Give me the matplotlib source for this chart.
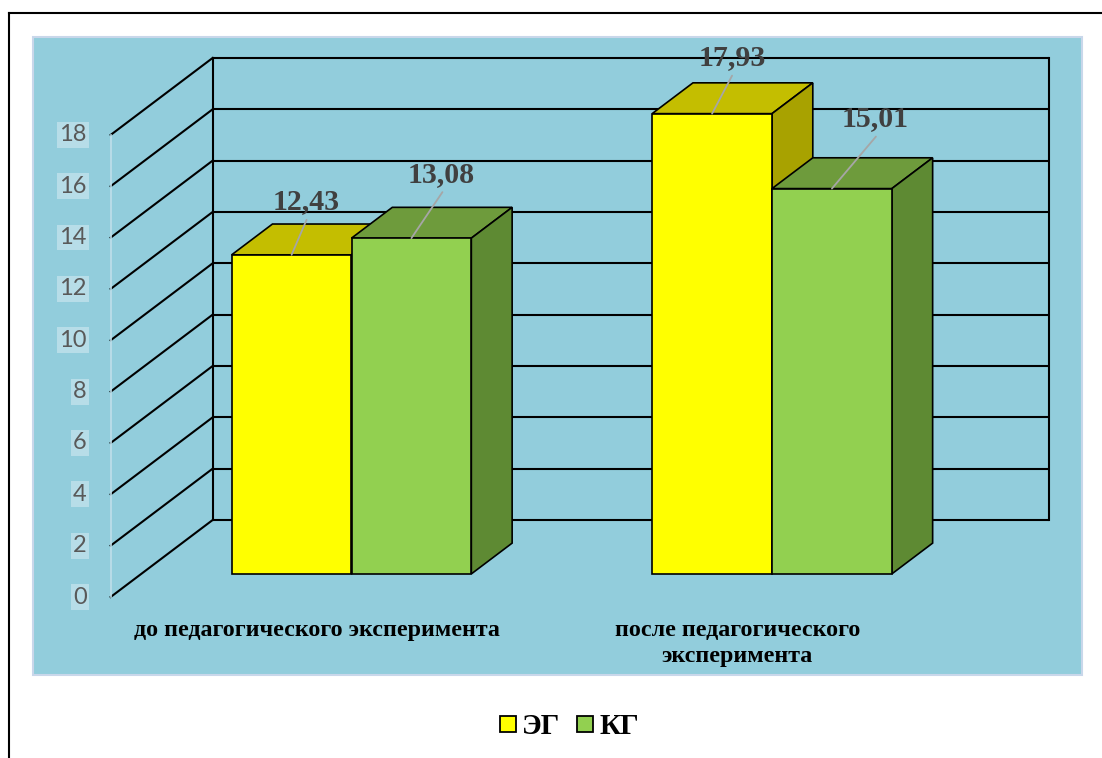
import numpy as np
import matplotlib
matplotlib.use("Agg")
import matplotlib.pyplot as plt
from matplotlib.patches import Rectangle, Polygon
from matplotlib.lines import Line2D

# ---------------- data ----------------
categories = ["до педагогического эксперимента", "после педагогического\nэксперимента"]
series_names = ["ЭГ", "КГ"]
eg_values = [12.43, 17.93]
kg_values = [13.08, 15.01]
value_labels_eg = ["12,43", "17,93"]
value_labels_kg = ["13,08", "15,01"]
y_ticks = list(range(0, 19, 2))

# ---------------- style ----------------
W_PX, H_PX = 1102, 758
fig = plt.figure(figsize=(W_PX / 100, H_PX / 100), dpi=100)
fig.patch.set_facecolor("white")
ax = fig.add_axes([0, 0, 1, 1])
ax.set_axis_off()
ax.set_facecolor("none")

# pixel -> data layout (front plane: y value, x category index)
PX_PER_UNIT = 25.67
PX_ZERO = 597.0
PX_PER_CAT = 420.5
PX_CAT0 = 320.9
ax.set_xlim((0 - PX_CAT0) / PX_PER_CAT, (W_PX - PX_CAT0) / PX_PER_CAT)
ax.set_ylim((PX_ZERO - H_PX) / PX_PER_UNIT, PX_ZERO / PX_PER_UNIT)

DX = 102.0 / PX_PER_CAT      # full depth shift in x (category units)
DY = 77.0 / PX_PER_UNIT      # full depth shift in y (value units)
D0, D1 = 0.3, 0.7            # bar depth range
BW = 0.285                   # bar width
WALL_L, WALL_R = -0.5, 1.49

panel_c = "#92CDDC"
grid_c = "black"
tick_box_c = "#B7DDE8"

eg_front, eg_top, eg_side = "#FFFF00", "#C4BE00", "#A8A200"
kg_front, kg_top, kg_side = "#92D050", "#6E9B3C", "#5E8A33"

serif = "Liberation Serif"

# outer frame and blue panel (figure pixel coords)
to_fig = lambda x, y: (x / W_PX, 1 - y / H_PX)
ax.add_line(Line2D([9 / W_PX, 1.0], [1 - 13 / H_PX] * 2, transform=fig.transFigure,
                   color="black", lw=1.5, clip_on=False, zorder=0))
ax.add_line(Line2D([9 / W_PX] * 2, [1 - 13 / H_PX, 0.0], transform=fig.transFigure,
                   color="black", lw=1.5, clip_on=False, zorder=0))
x0, y1 = to_fig(33, 675)
x1, y0 = to_fig(1082, 37)
ax.add_patch(Rectangle((x0, y1), x1 - x0, y0 - y1, transform=fig.transFigure,
                       facecolor=panel_c, edgecolor="#C9D7EA", lw=1.5, zorder=0.5))

def proj(x, v, d):
    return x + d * DX, v + d * DY

# back wall, side wall gridlines
for t in y_ticks:
    xa, ya = proj(WALL_L, t, 1)
    xb, yb = proj(WALL_R, t, 1)
    ax.plot([xa, xb], [ya, yb], color=grid_c, lw=1.5, zorder=1, solid_capstyle="butt")
    xf, yf = proj(WALL_L, t, 0)
    ax.plot([xf, xa], [yf, ya], color=grid_c, lw=1.5, zorder=1)
for xw in (WALL_L, WALL_R):
    xa, ya = proj(xw, y_ticks[0], 1)
    xb, yb = proj(xw, y_ticks[-1], 1)
    ax.plot([xa, xb], [ya, yb], color=grid_c, lw=1.5, zorder=1)
# light front axis line
xa, ya = proj(WALL_L, y_ticks[0], 0)
xb, yb = proj(WALL_L, y_ticks[-1], 0)
ax.plot([xa, xb], [ya, yb], color="#BFDFEA", lw=1.2, zorder=1)

# tick labels
for t in y_ticks:
    xf, yf = proj(WALL_L, t, 0)
    ax.annotate(str(t), xy=(xf, yf), xytext=(-24, 0), textcoords="offset pixels",
                ha="right", va="center", fontsize=17, family="Lato", color="#595959",
                bbox=dict(boxstyle="square,pad=0.1", fc=tick_box_c, ec="none"), zorder=2)

# bars
groups = np.arange(len(categories))
series = [
    (eg_values, -0.5, eg_front, eg_top, eg_side),
    (kg_values, 0.5, kg_front, kg_top, kg_side),
]
z = 3
for vals, shift, cf, ct, cs in series:
    xs = groups + shift * BW
    fx, base = proj(xs, 0, D0)
    ax.bar(fx, vals, width=BW, bottom=base, color=cf, edgecolor="black", lw=1.2, zorder=z + 2)
    dd = D1 - D0
    for xc, v in zip(fx, vals):
        xl, xr = xc - BW / 2, xc + BW / 2
        top = base + v
        top_poly = [(xl, top), (xr, top), (xr + dd * DX, top + dd * DY), (xl + dd * DX, top + dd * DY)]
        side_poly = [(xr, base), (xr, top), (xr + dd * DX, top + dd * DY), (xr + dd * DX, base + dd * DY)]
        ax.add_patch(Polygon(top_poly, closed=True, fc=ct, ec="black", lw=1.2, zorder=z))
        ax.add_patch(Polygon(side_poly, closed=True, fc=cs, ec="black", lw=1.2, zorder=z))
    z += 3

# value labels with leader lines (offsets in pixels: leader end, text baseline)
label_specs = [
    (eg_values, value_labels_eg, -0.5, [(15, 35, 15, 46), (20, 38, 20, 49)]),
    (kg_values, value_labels_kg, 0.5, [(31, 46, 30, 56), (44, 52, 43, 63)]),
]
for vals, labs, shift, offs in label_specs:
    fx, base = proj(groups + shift * BW, 0, D0)
    for xc, v, lab, (lx, ly, tx, ty) in zip(fx, vals, labs, offs):
        ax.annotate("", xy=(xc, base + v), xytext=(lx, ly), textcoords="offset pixels",
                    arrowprops=dict(arrowstyle="-", color="#A6A6A6", lw=1.3,
                                    shrinkA=0, shrinkB=0), zorder=12)
        ax.annotate(lab, xy=(xc, base + v), xytext=(tx, ty), textcoords="offset pixels",
                    ha="center", va="baseline", fontsize=21.5, fontweight="bold",
                    family=serif, color="#404040", zorder=12)

# category labels
for g, cat in zip(groups, categories):
    ax.annotate(cat, xy=(g, 0), xytext=(-4, -23), textcoords="offset pixels",
                ha="center", va="top", fontsize=17.3, fontweight="bold", family=serif,
                color="black", linespacing=1.3, zorder=12)

# legend
handles = [
    Line2D([], [], marker="s", ls="", mfc=eg_front, mec="black", ms=11, mew=1.3),
    Line2D([], [], marker="s", ls="", mfc=kg_front, mec="black", ms=11, mew=1.3),
]
fig.legend(handles, series_names, loc="center", bbox_to_anchor=(567 / W_PX, 1 - 727 / H_PX),
           ncol=2, frameon=False, handletextpad=0.03, columnspacing=0.4, handlelength=0.9,
           prop=dict(family=serif, weight="bold", size=21))

fig.savefig("out.png", dpi=100)
